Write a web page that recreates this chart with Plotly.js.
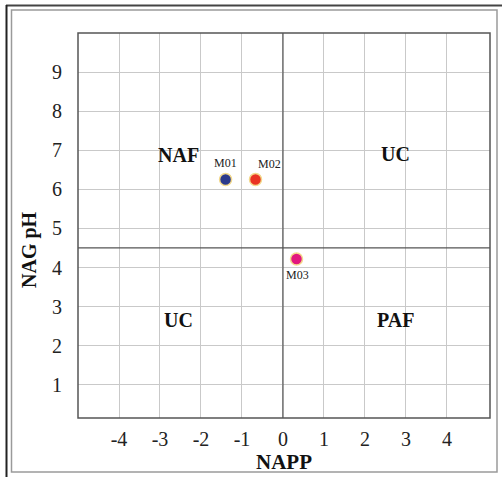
<!DOCTYPE html>
<html>
<head>
<meta charset="utf-8">
<script src="https://cdn.plot.ly/plotly-3.0.1.min.js"></script>
<style>
html,body{margin:0;padding:0;background:#fff;}
#chart{width:502px;height:477px;}
</style>
</head>
<body>
<div id="chart"></div>
<script>
// Data
var sampleNames = ["M01", "M02", "M03"];
var nappValues = [-1.4, -0.67, 0.33];
var nagPhValues = [6.25, 6.25, 4.22];
var sampleColors = ["#2b3a8c", "#ea3323", "#e2187e"];
var xTickVals = [-4, -3, -2, -1, 0, 1, 2, 3, 4];
var yTickVals = [1, 2, 3, 4, 5, 6, 7, 8, 9];
var xTickText = ["-4", "-3", "-2", "-1", "0", "1", "2", "3", "4"];
var yTickText = ["1", "2", "3", "4", "5", "6", "7", "8", "9"];
var quadrantNames = ["NAF", "UC", "UC", "PAF"];
var napp0 = 0;
var nagPhThreshold = 4.5;

var W = 502, H = 477, L = 78, R = 12, T = 33, B = 59;
var pw = W - L - R, ph = H - T - B;
function px(x){ return (x - L) / pw; }
function py(y){ return 1 - (y - T) / ph; }

var serif = "Liberation Serif";

var trace = {
  x: nappValues, y: nagPhValues, mode: "markers", type: "scatter",
  marker: {size: 12, color: sampleColors, line: {color: "#f3d98c", width: 1.5}},
  hoverinfo: "skip", showlegend: false
};

var labelOffsets = [[0, 17], [14, 16], [1, -16]];
var annotations = [];
for (var i = 0; i < sampleNames.length; i++) {
  annotations.push({x: nappValues[i], y: nagPhValues[i], xref: "x", yref: "y", text: sampleNames[i],
    xanchor: "center", yanchor: "middle",
    showarrow: false, xshift: labelOffsets[i][0], yshift: labelOffsets[i][1],
    font: {family: serif, size: 12, color: "#222"}});
}
var quadPos = [[178, 155], [395, 154], [178, 320], [395, 320]];
for (var j = 0; j < quadrantNames.length; j++) {
  annotations.push({x: px(quadPos[j][0]), y: py(quadPos[j][1]), xref: "paper", yref: "paper",
    xanchor: "center", yanchor: "middle",
    text: "<b>" + quadrantNames[j] + "</b>", showarrow: false,
    font: {family: serif, size: 20, color: "#111"}});
}
annotations.push({x: px(284), y: py(462), xref: "paper", yref: "paper", text: "<b>NAPP</b>",
  xanchor: "center", yanchor: "middle",
  showarrow: false, font: {family: serif, size: 21, color: "#111"}});
annotations.push({x: px(29), y: py(250), xref: "paper", yref: "paper", text: "<b>NAG pH</b>",
  xanchor: "center", yanchor: "middle",
  showarrow: false, textangle: -90, font: {family: serif, size: 20, color: "#111"}});

var shapes = [
  {type: "line", xref: "x", yref: "paper", x0: napp0, x1: napp0, y0: 0, y1: 1, line: {color: "#555", width: 1.2}},
  {type: "line", xref: "paper", yref: "y", x0: 0, x1: 1, y0: nagPhThreshold, y1: nagPhThreshold, line: {color: "#555", width: 1.2}},
  {type: "rect", xref: "paper", yref: "paper", x0: 0, x1: 1, y0: 0, y1: 1, line: {color: "#555", width: 1.5}},
  // frame
  {type: "rect", xref: "paper", yref: "paper", x0: px(11.5), x1: px(497), y0: py(472), y1: py(10), line: {color: "#9a9a9a", width: 1.5}},
  {type: "line", xref: "paper", yref: "paper", x0: px(6), x1: px(502), y0: py(5.5), y1: py(5.5), line: {color: "#444", width: 2}},
  {type: "line", xref: "paper", yref: "paper", x0: px(6.5), x1: px(6.5), y0: py(477), y1: py(5), line: {color: "#222", width: 2}}
];

var layout = {
  width: W, height: H,
  margin: {l: L, r: R, t: T, b: B, pad: 0},
  paper_bgcolor: "#fff", plot_bgcolor: "#fff",
  font: {family: serif, size: 17, color: "#222"},
  showlegend: false,
  xaxis: {range: [-5, 5.05], tickmode: "array", tickvals: xTickVals, ticktext: xTickText,
    showgrid: true, gridcolor: "#c9c9c9", gridwidth: 1, zeroline: false, showline: false,
    ticks: "outside", ticklen: 3, tickcolor: "rgba(0,0,0,0)", fixedrange: true,
    tickfont: {family: serif, size: 20, color: "#222"}},
  yaxis: {range: [0.15, 10], tickmode: "array", tickvals: yTickVals, ticktext: yTickText,
    showgrid: true, gridcolor: "#c9c9c9", gridwidth: 1, zeroline: false, showline: false,
    ticks: "outside", ticklen: 11, tickcolor: "rgba(0,0,0,0)", fixedrange: true,
    tickfont: {family: serif, size: 20, color: "#222"}},
  annotations: annotations,
  shapes: shapes
};

Plotly.newPlot("chart", [trace], layout, {displayModeBar: false, staticPlot: true});
</script>
</body>
</html>
